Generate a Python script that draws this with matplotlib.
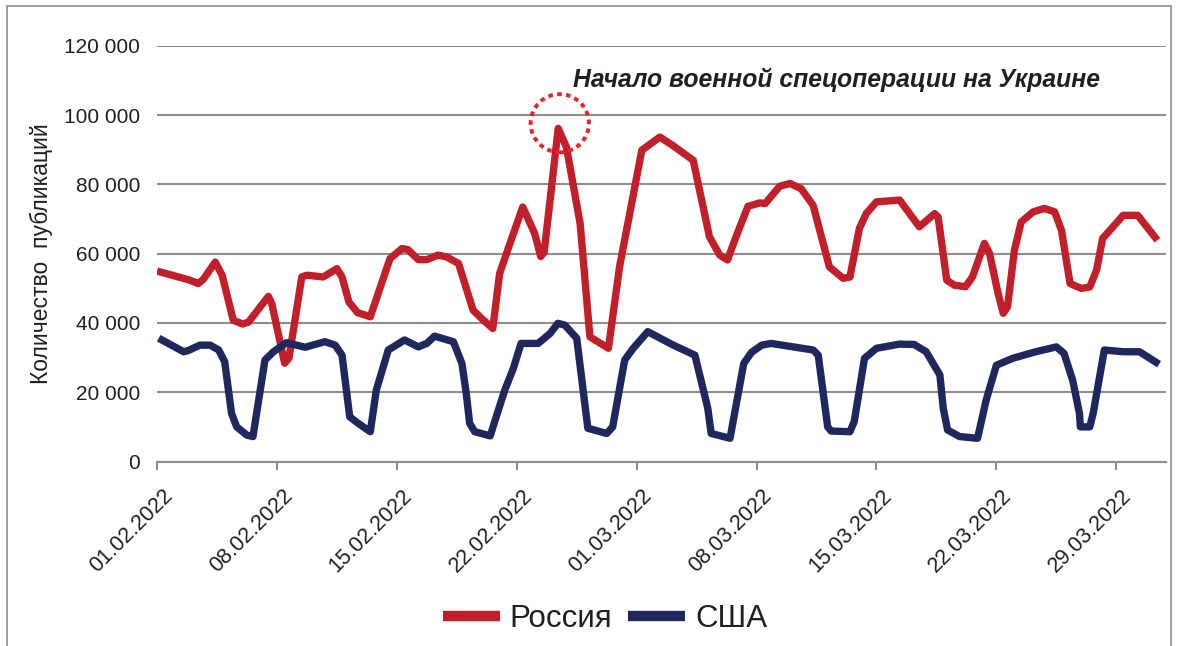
import numpy as np
import pandas as pd
import matplotlib
matplotlib.use('Agg')
import matplotlib.pyplot as plt
import matplotlib.dates as mdates
import matplotlib.transforms as mtransforms
from matplotlib.patches import Ellipse, Rectangle

plt.rcParams['font.family'] = ['Liberation Sans', 'DejaVu Sans']

start = pd.Timestamp('2022-02-01')

# Россия: day offset from 01.02.2022, number of publications
ru_day = [0.0, 1.9, 2.4, 2.7, 3.4, 3.8, 4.45, 5.0, 5.35, 6.5, 6.7, 7.45, 7.7, 8.45, 8.75,
          9.7, 10.5, 10.8, 11.2, 11.7, 12.45, 13.6, 14.3, 14.65, 15.25, 15.75, 16.4, 16.9,
          17.6, 18.45, 18.95, 19.6, 20.0, 20.5, 21.35, 22.05, 22.4, 22.6, 23.42, 23.9, 24.7,
          25.27, 26.35, 27.0, 28.3, 29.35, 30.1, 31.3, 32.25, 32.85, 33.3, 33.8, 34.5, 35.2,
          35.5, 36.35, 36.95, 37.6, 38.3, 39.25, 40.05, 40.45, 41.0, 41.4, 42.0, 43.35, 44.5,
          45.4, 45.6, 46.1, 46.55, 47.2, 47.6, 48.3, 48.6, 49.1, 49.4, 49.65, 50.05, 50.45,
          51.15, 51.8, 52.4, 52.8, 53.3, 53.95, 54.45, 54.85, 55.2, 56.4, 57.25, 58.4]
ru_val = [55000, 52400, 51400, 52600, 57600, 53800, 40800, 39700, 40300, 47700, 45600, 28400,
          29800, 53300, 53800, 53300, 55700, 53300, 46100, 43000, 41800, 58600, 61500, 61200,
          58300, 58300, 59600, 59100, 57200, 43700, 41300, 38400, 54300, 61500, 73500, 65800,
          59200, 60500, 96200, 90800, 68700, 36000, 32700, 56200, 89900, 93700, 91300, 87000,
          64900, 59600, 58200, 64900, 73700, 74700, 74500, 79500, 80300, 78800, 74000, 56200,
          52900, 53300, 67300, 71600, 75000, 75500, 67800, 71600, 70600, 52400, 50900, 50500,
          53300, 63000, 60100, 48500, 42800, 44700, 61000, 69200, 72100, 73100, 72100, 66800,
          51400, 50000, 50400, 55300, 64400, 71100, 71100, 63900]

# США
us_day = [0.1, 1.55, 1.8, 2.5, 3.1, 3.6, 3.95, 4.35, 4.65, 5.25, 5.6, 6.3, 6.8, 7.55, 8.65,
          9.8, 10.4, 10.8, 11.25, 11.75, 12.45, 12.8, 13.5, 14.45, 15.25, 15.75, 16.2, 17.3,
          17.8, 18.05, 18.25, 18.55, 19.45, 19.8, 20.3, 20.8, 21.25, 22.25, 22.95, 23.4, 23.8,
          24.5, 25.15, 26.25, 26.6, 27.3, 27.8, 28.65, 30.1, 31.4, 32.15, 32.35, 33.45, 34.25,
          34.7, 35.3, 35.85, 38.3, 38.6, 39.15, 39.35, 40.45, 40.7, 41.3, 42.0, 43.35, 44.2,
          44.9, 45.7, 45.9, 46.15, 46.85, 47.9, 48.4, 49.0, 49.95, 51.3, 52.5, 52.95, 53.45,
          53.85, 53.9, 54.45, 54.65, 55.3, 56.4, 57.35, 58.5]
us_val = [35600, 31700, 32000, 33600, 33600, 32200, 28800, 13900, 10000, 7600, 7200, 29300,
          31700, 34300, 33000, 34600, 33600, 30700, 12900, 11000, 8600, 20600, 32200, 35100,
          33100, 34100, 36200, 34600, 28300, 19700, 11000, 8600, 7400, 12900, 20600, 26900,
          34100, 34100, 37000, 39900, 39400, 35600, 9600, 8100, 10000, 29300, 32700, 37500,
          33700, 30700, 15400, 8100, 6700, 28300, 31500, 33600, 34100, 32200, 30700, 10000,
          8800, 8600, 11500, 29800, 32700, 33900, 33800, 31700, 25000, 15300, 9100, 7200,
          6700, 17700, 27800, 29800, 31700, 33100, 31200, 23500, 13900, 10000, 10000, 13900,
          32200, 31700, 31700, 28100]

red = '#C11F2A'
blue = '#1E285C'
grid_c = '#8E8E8E'

ru_x = start + pd.to_timedelta(ru_day, unit='D')
us_x = start + pd.to_timedelta(us_day, unit='D')

fig = plt.figure(figsize=(11.78, 6.46), dpi=100)
ax = fig.add_axes([0.1333, 0.2856, 0.8565, 0.6432])

ax.plot(ru_x, ru_val, color=red, lw=5.3, solid_joinstyle='round', solid_capstyle='butt',
        label='Россия', zorder=3)
ax.plot(us_x, us_val, color=blue, lw=5.3, solid_joinstyle='round', solid_capstyle='butt',
        label='США', zorder=3)

ax.set_ylim(0, 120000)
ax.set_xlim(start, start + pd.Timedelta(days=58.9))
ax.set_yticks(np.arange(0, 120001, 20000))
ax.yaxis.set_major_formatter(plt.FuncFormatter(lambda v, p: f'{int(v):,}'.replace(',', ' ')))
ax.grid(axis='y', color=grid_c, lw=1.5)
ax.set_axisbelow(True)
for s in ['left', 'right', 'top']:
    ax.spines[s].set_visible(False)
ax.spines['bottom'].set_color(grid_c)
ax.spines['bottom'].set_linewidth(1.5)

ax.xaxis.set_major_locator(mdates.DayLocator(bymonthday=[1, 8, 15, 22, 29]))
ax.xaxis.set_major_formatter(mdates.DateFormatter('%d.%m.%Y'))
ax.tick_params(axis='y', length=0, pad=12, labelsize=15, labelcolor='#231F20')
ax.tick_params(axis='x', length=6, width=1.5, color=grid_c, labelsize=15.5, labelcolor='#231F20', pad=11)
shift = mtransforms.ScaledTranslation(5 / 100, 0, fig.dpi_scale_trans)
for lbl in ax.get_xticklabels():
    lbl.set_rotation(45)
    lbl.set_ha('right')
    lbl.set_va('top')
    lbl.set_rotation_mode('anchor')
    lbl.set_transform(lbl.get_transform() + shift)

ax.set_ylabel('Количество  публикаций', fontsize=16.5, color='#231F20', labelpad=8)

# dotted circle around the peak
ell = Ellipse((mdates.date2num(start + pd.Timedelta(days=23.51)), 97700),
              width=3.4, height=16800, fill=False, edgecolor='#E8232A', lw=2.8,
              linestyle=(0, (1.2, 1.1)), zorder=4, clip_on=False)
ax.add_patch(ell)

fig.text(573 / 1178, 1 - 80 / 646, 'Начало военной спецоперации на Украине',
         fontsize=17.8, fontweight='bold', fontstyle='italic', color='#231F20',
         ha='left', va='center')

leg = fig.legend(loc='center', bbox_to_anchor=(0.5136, 1 - 619 / 646), ncol=2, frameon=False,
                 fontsize=22.5, handlelength=1.83, handletextpad=0.32, columnspacing=0.5)
for h in leg.get_lines():
    h.set_linewidth(7.5)
    h.set_solid_capstyle('butt')
for t in leg.get_texts():
    t.set_color('#231F20')

# outer frame
fig.patches.append(Rectangle((7 / 1178, -0.05), 1164 / 1178, 1.05 - 6 / 646,
                             transform=fig.transFigure, fill=False, edgecolor='#8E8E8E',
                             lw=1.2, figure=fig))

fig.savefig('out.png', dpi=100)
